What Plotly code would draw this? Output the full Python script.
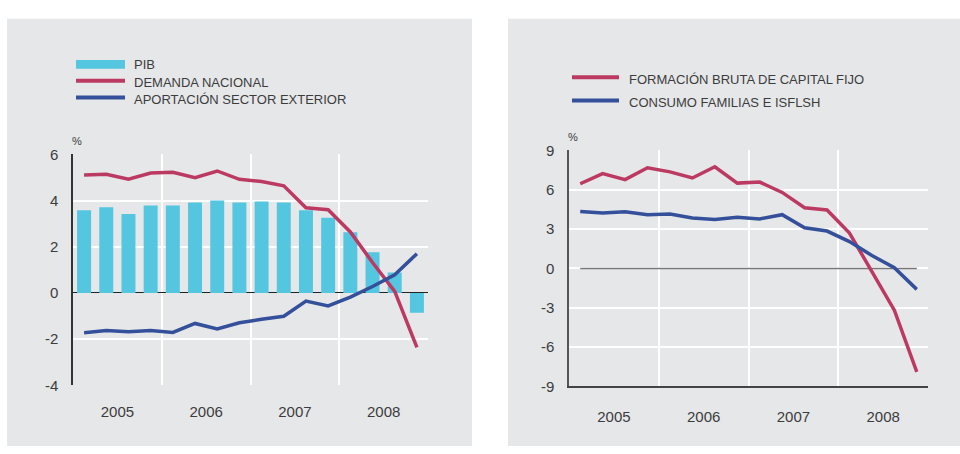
'''
    Two panels: PIB / demanda nacional / sector exterior, and FBCF / consumo.
'''

import plotly.graph_objects as go

# quarters 2005-2008
trimestres = ['2005-I', '2005-II', '2005-III', '2005-IV',
              '2006-I', '2006-II', '2006-III', '2006-IV',
              '2007-I', '2007-II', '2007-III', '2007-IV',
              '2008-I', '2008-II', '2008-III', '2008-IV']
anios = ['2005', '2006', '2007', '2008']

# left panel (%)
pib = [3.58, 3.71, 3.42, 3.79, 3.79, 3.92, 4.0, 3.92,
       3.96, 3.92, 3.58, 3.26, 2.63, 1.76, 0.89, -0.86]
demanda_nacional = [5.11, 5.14, 4.92, 5.19, 5.22, 4.99, 5.28, 4.92,
                    4.82, 4.64, 3.69, 3.60, 2.64, 1.32, 0.07, -2.36]
sector_exterior = [-1.72, -1.63, -1.68, -1.63, -1.71, -1.32, -1.56, -1.29,
                   -1.14, -1.01, -0.35, -0.56, -0.18, 0.28, 0.79, 1.70]
yticks_izq = [-4, -2, 0, 2, 4, 6]

# right panel (%)
fbcf = [6.46, 7.24, 6.78, 7.68, 7.37, 6.90, 7.76, 6.51,
        6.59, 5.80, 4.63, 4.46, 2.70, -0.20, -3.19, -7.9]
consumo = [4.34, 4.22, 4.32, 4.10, 4.15, 3.85, 3.73, 3.90,
           3.78, 4.10, 3.10, 2.85, 2.05, 0.98, 0.05, -1.60]
cero = [0] * len(trimestres)
yticks_der = [-9, -6, -3, 0, 3, 6, 9]

CYAN = '#55C6E0'
RED = '#BC3A62'
BLUE = '#34509B'
BG = '#E6E7E9'
TXT = '#3C3C3C'
FONT = 'Liberation Sans, Arial, sans-serif'

x = list(range(len(trimestres)))
year_pos = [4 * i + 1.5 for i in range(len(anios))]

fig = go.Figure()

# left panel
fig.add_trace(go.Bar(x=x, y=pib, marker_color=CYAN, marker_line_width=0,
                     name='PIB', xaxis='x', yaxis='y'))
fig.add_trace(go.Scatter(x=x, y=demanda_nacional, mode='lines',
                         line=dict(color=RED, width=3.5),
                         name='DEMANDA NACIONAL', xaxis='x', yaxis='y'))
fig.add_trace(go.Scatter(x=x, y=sector_exterior, mode='lines',
                         line=dict(color=BLUE, width=3.5),
                         name='APORTACIÓN SECTOR EXTERIOR', xaxis='x', yaxis='y'))

# right panel
fig.add_trace(go.Scatter(x=x, y=cero, mode='lines',
                         line=dict(color='#777777', width=1.5),
                         hoverinfo='skip', xaxis='x2', yaxis='y2'))
fig.add_trace(go.Scatter(x=x, y=fbcf, mode='lines',
                         line=dict(color=RED, width=3.5),
                         name='FORMACIÓN BRUTA DE CAPITAL FIJO', xaxis='x2', yaxis='y2'))
fig.add_trace(go.Scatter(x=x, y=consumo, mode='lines',
                         line=dict(color=BLUE, width=3.5),
                         name='CONSUMO FAMILIAS E ISFLSH', xaxis='x2', yaxis='y2'))

W, H = 960, 454


def px(v):
    return v / W


def py(v):
    return 1 - v / H


xaxis_common = dict(
    range=[-0.5, len(trimestres) - 0.5],
    tickmode='array', tickvals=year_pos, ticktext=anios,
    showgrid=False, zeroline=False, ticks='',
    ticklabelstandoff=16,
    tickfont=dict(family=FONT, size=15, color=TXT),
    minor=dict(tick0=-0.5, dtick=4, showgrid=True, gridcolor='white', gridwidth=2),
    fixedrange=True,
)

fig.update_layout(
    width=W, height=H,
    margin=dict(l=0, r=0, t=0, b=0),
    paper_bgcolor='white',
    plot_bgcolor=BG,
    showlegend=False,
    bargap=0.37,
    font=dict(family=FONT, color=TXT),
    xaxis=dict(domain=[px(73), px(428)], anchor='y', showline=False, **xaxis_common),
    yaxis=dict(domain=[py(391), py(151)], anchor='x', range=[-4, 6],
               tickmode='array', tickvals=yticks_izq,
               ticktext=[str(v) for v in yticks_izq],
               showgrid=True, gridcolor='white', gridwidth=2,
               zeroline=True, zerolinecolor='#222222', zerolinewidth=1.2,
               showline=True, linecolor='#333333', linewidth=1.5,
               ticklabelstandoff=10,
               tickfont=dict(family=FONT, size=15, color=TXT)),
    xaxis2=dict(domain=[px(569), px(928)], anchor='y2',
                showline=True, linecolor='#444444', linewidth=1.5, **xaxis_common),
    yaxis2=dict(domain=[py(392), py(147)], anchor='x2', range=[-9, 9],
                tickmode='array', tickvals=yticks_der,
                ticktext=[str(v) for v in yticks_der],
                showgrid=True, gridcolor='white', gridwidth=2,
                zeroline=False,
                showline=True, linecolor='#555555', linewidth=1.5,
                ticklabelstandoff=10,
                tickfont=dict(family=FONT, size=15, color=TXT)),
)

# grey panel backgrounds
shapes = [
    dict(type='rect', xref='paper', yref='paper', x0=px(7), x1=px(472), y0=0, y1=py(10),
         fillcolor=BG, line_width=0, layer='below'),
    dict(type='rect', xref='paper', yref='paper', x0=px(508), x1=1, y0=0, y1=py(10),
         fillcolor=BG, line_width=0, layer='below'),
]

# hand-made legends
shapes.append(dict(type='rect', xref='paper', yref='paper', x0=px(76), x1=px(125),
                   y0=py(62), y1=py(53), fillcolor=CYAN, line_width=0))
legend_lines = [(76, 125, 74.5, RED), (76, 125, 92, BLUE),
                (572, 619, 71, RED), (572, 619, 95, BLUE)]
for x0, x1, yy, col in legend_lines:
    shapes.append(dict(type='line', xref='paper', yref='paper', x0=px(x0), x1=px(x1),
                       y0=py(yy), y1=py(yy), line=dict(color=col, width=4)))
fig.update_layout(shapes=shapes)

legend_texts = [(132, 57.5, 'PIB'), (132, 76.5, 'DEMANDA NACIONAL'),
                (132, 94.5, 'APORTACIÓN SECTOR EXTERIOR'),
                (627, 73, 'FORMACIÓN BRUTA DE CAPITAL FIJO'),
                (627, 97.5, 'CONSUMO FAMILIAS E ISFLSH')]
for xx, yy, t in legend_texts:
    fig.add_annotation(text=t, xref='paper', yref='paper', x=px(xx), y=py(yy),
                       xanchor='left', yanchor='middle', showarrow=False,
                       font=dict(family=FONT, size=13, color=TXT))

# % labels
for xx, yy in [(77, 137), (573, 133)]:
    fig.add_annotation(text='%', xref='paper', yref='paper', x=px(xx), y=py(yy),
                       xanchor='center', yanchor='middle', showarrow=False,
                       font=dict(family=FONT, size=11, color=TXT))

# pin the plot to the window corner (no body margin, no scrolling)
pin = ("document.body.style.margin='0';"
       "document.body.style.overflow='hidden';"
       "var d=document.getElementById('{plot_id}');"
       "d.style.position='fixed';d.style.left='0';d.style.top='0';")
fig.write_html('out.html', config={'displayModeBar': False}, post_script=pin)
